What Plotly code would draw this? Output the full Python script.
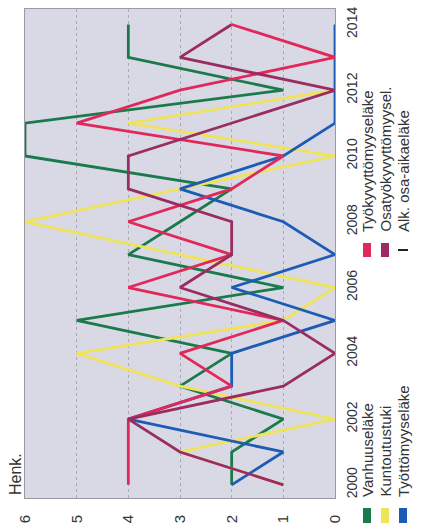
import plotly.graph_objects as go

# ---- data ----
years = list(range(2000, 2015))
vanhuuselake = [2, 2, 1, 3, 2, 5, 1, 4, 3, 2, 6, 6, 1, 4, 4]
kuntoutustuki = [1, 3, 0, 3, 5, 1, 0, 3, 6, 3, 0, 4, 0, 0, 0]
tyottomyyselake = [2, 1, 4, 2, 2, 0, 2, 0, 1, 3, 1, 0, 0, 0, 0]
tyokyvyttomyyselake = [4, 4, 4, 2, 3, 1, 4, 2, 4, 2, 1, 5, 3, 0, 2]
osatyokyvyttomyysel = [1, 3, 4, 1, 0, 1, 3, 2, 2, 4, 4, 2, 0, 3, 2]
alk_osa_aikaelake = [None] * 15

series_names = ["Vanhuuseläke", "Kuntoutustuki", "Työttömyyseläke",
                "Työkyvyttömyyseläke", "Osatyökyvyttömyysel.", "Alk. osa-aikaeläke"]
series_values = [vanhuuselake, kuntoutustuki, tyottomyyselake,
                 tyokyvyttomyyselake, osatyokyvyttomyysel, alk_osa_aikaelake]
series_colors = ["#1b7a4c", "#f0e35c", "#1d5cb4", "#e0285a", "#9a2c62", "#222222"]

value_ticks = [0, 1, 2, 3, 4, 5, 6]
year_ticks = [2000, 2002, 2004, 2006, 2008, 2010, 2012, 2014]

W, H = 422, 529
L, R, T, B = 25, 87, 9, 31
PW, PH = W - L - R, H - T - B

def px(x):
    return (x - L) / PW

def py(y):
    return (H - B - y) / PH

fig = go.Figure()
for name, vals, col in zip(series_names, series_values, series_colors):
    fig.add_trace(go.Scatter(x=vals, y=years, mode="lines", name=name,
                             line=dict(color=col, width=2.8), showlegend=False))

fig.update_layout(
    width=W, height=H,
    margin=dict(l=L, r=R, t=T, b=B, autoexpand=False),
    paper_bgcolor="white",
    plot_bgcolor="#d9d9e5",
    font=dict(family="Liberation Sans, Arial, sans-serif", color="#333333"),
    showlegend=False,
)
fig.update_xaxes(
    range=[6, 0], tickvals=value_ticks, tickangle=-90, automargin=False,
    tickfont=dict(size=15), ticklabelstandoff=10,
    showgrid=True, gridcolor="#aaaab4", griddash="dot", gridwidth=1,
    showline=True, mirror=True, linecolor="#9a9aa2", linewidth=1,
    zeroline=False, ticks="",
)
fig.update_yaxes(
    range=[1999.6, 2014.47], tickvals=year_ticks, side="right", tickangle=-90,
    automargin=False, tickfont=dict(size=14), ticklabelstandoff=4,
    showgrid=False, showline=True, mirror=True, linecolor="#9a9aa2", linewidth=1,
    zeroline=False, ticks="",
)

# "Henk." axis title (rotated like the whole chart)
fig.add_annotation(text="Henk.", textangle=-90, xref="paper", yref="paper",
                   x=px(15), y=py(497), xanchor="center", yanchor="bottom",
                   showarrow=False, font=dict(size=16, color="#333333"))

# legend, rotated: two groups of three columns
legend_layout = [
    # (series index, column x center, marker y top, marker y bottom, text start y)
    (0, 367, 508, 523, 499),
    (1, 385, 508, 523, 499),
    (2, 403, 508, 523, 499),
    (3, 367, 243, 257, 234),
    (4, 385, 243, 257, 234),
    (5, 403, 243, 257, 234),
]
for idx, cx, my0, my1, ty in legend_layout:
    col = series_colors[idx]
    if idx == 5:
        fig.add_shape(type="line", xref="paper", yref="paper",
                      x0=px(cx - 5), x1=px(cx + 5), y0=py((my0 + my1) / 2), y1=py((my0 + my1) / 2),
                      line=dict(color=col, width=2))
    else:
        fig.add_shape(type="rect", xref="paper", yref="paper",
                      x0=px(cx - 4), x1=px(cx + 4), y0=py(my1), y1=py(my0),
                      line=dict(width=0), fillcolor=col)
    fig.add_annotation(text=series_names[idx], textangle=-90, xref="paper", yref="paper",
                       x=px(cx), y=py(ty), xanchor="center", yanchor="bottom",
                       showarrow=False, font=dict(size=15, color="#333333"))

fig.write_html("out.html", config={"displayModeBar": False},
               post_script="document.body.style.margin='0';document.body.style.overflow='hidden';")
